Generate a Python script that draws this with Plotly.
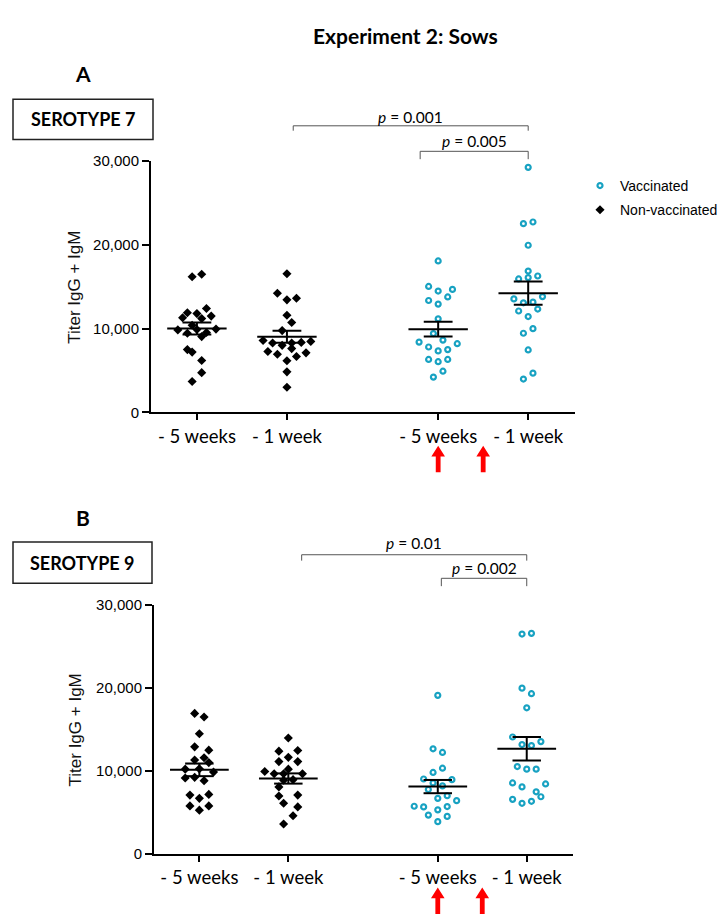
import numpy as np
import plotly.graph_objects as go

# ---------------- data ----------------
tick_labels = ["- 5 weeks", "- 1 week", "- 5 weeks", "- 1 week"]
group_names = ["Non-vaccinated", "Non-vaccinated", "Vaccinated", "Vaccinated"]

# Serotype 7 (panel A)
s7_non_5w = [16200, 16500, 12400, 11900, 11800, 11300, 11200, 11500, 10400, 9850,
             9450, 9900, 9550, 9950, 9050, 7500, 7200, 6200, 4750, 3700]
s7_non_1w = [16563, 14219, 13438, 13633, 11602, 10742, 9766, 8594, 8281, 8008, 8281,
             8360, 8476, 7266, 6953, 7617, 6680, 7109, 6172, 4844, 3008]
s7_vac_5w = [18086, 15039, 14492, 14688, 13789, 13359, 12930, 11172, 9414, 8633,
             8398, 8203, 7813, 7344, 7500, 6328, 6055, 6328, 4922, 4219]
s7_vac_1w = [29258, 22539, 22734, 19961, 16875, 15938, 16289, 16094, 13555, 13086,
             13164, 13828, 12109, 12344, 11445, 10000, 9453, 7461, 4688, 3984]

# Serotype 9 (panel B)
s9_non_5w = [16934, 16500, 14487, 12908, 12513, 11329, 11605, 11012, 10223, 10262,
             9868, 9157, 9236, 8841, 7105, 7184, 6710, 5802, 5802, 5289]
s9_non_1w = [13973, 12394, 12473, 11644, 11131, 11131, 10223, 9947, 9670, 9670,
             9670, 8960, 8881, 8091, 6986, 7105, 6118, 5684, 4618, 3631]
s9_vac_5w = [19103, 12670, 12236, 9828, 10341, 9039, 8960, 8565, 8210, 7776,
             6710, 7026, 6434, 5763, 5684, 5328, 5723, 4697, 4539, 3908]
s9_vac_1w = [26484, 26563, 19972, 19301, 17604, 14091, 13183, 13065, 13538, 10538,
             10223, 10223, 8565, 8091, 8447, 7499, 6907, 6591, 6118, 6355]

# scatter-dot column slot of each point (beeswarm column index)
s7_non_5w_slot = [-1, 1, 2, -2, 0, -3, 1, 3, -1, -4, -2, 0, 2, 4, 1, -2, -1, 1, 1, -1]
s7_non_1w_slot = [0, -2, 0, 2, 0, 1, -1, -5, -3, -1, 1, 3, 5, -4, -2, 1, 2, 4, 0, 0, 0]
s7_vac_5w_slot = [0, -2, 0, 3, 2, -2, 0, 0, -1, 1, -4, 4, -2, 0, 2, -2, 0, 2, 1, -1]
s7_vac_1w_slot = [0, -1, 1, 0, 0, -2, 2, 0, -3, -1, 1, 3, -2, 2, 0, 1, -1, 0, 1, -1]
s9_non_5w_slot = [-1, 1, 0, -1, 2, -1, 1, 2, -3, 0, 3, -3, -1, 1, -2, 2, 0, -2, 2, 0]
s9_non_1w_slot = [0, -2, 2, 0, -2, 2, 0, -5, -3, -1, 3, 1, -1, -2, -2, 2, -1, 2, 1, -1]
s9_vac_5w_slot = [0, -1, 1, -1, 1, -3, 3, -1, 1, -2, 0, 2, 4, -5, -3, 0, 2, -2, 2, 0]
s9_vac_1w_slot = [-1, 1, -1, 1, 0, -3, -1, 1, 3, -2, 0, 2, -3, -1, 4, 2, 3, -3, -1, 1]

p_values_A = ["0.001", "0.005"]
p_values_B = ["0.01", "0.002"]

# ---------------- layout helpers ----------------
W, H = 724, 922
def PX(x):
    return x / W
def PY(y):
    return 1 - y / H

group_pos = [0, 1, 2.68, 3.68]
slot_w = 0.053
TEAL = "#18a2c2"
FONT_SANS = "Liberation Sans, Arial, sans-serif"
FONT_CAL = "Lato, Open Sans, sans-serif"

fig = go.Figure()

panels = [
    dict(xa="x", ya="y",
         data=[s7_non_5w, s7_non_1w, s7_vac_5w, s7_vac_1w],
         slots=[s7_non_5w_slot, s7_non_1w_slot, s7_vac_5w_slot, s7_vac_1w_slot]),
    dict(xa="x2", ya="y2",
         data=[s9_non_5w, s9_non_1w, s9_vac_5w, s9_vac_1w],
         slots=[s9_non_5w_slot, s9_non_1w_slot, s9_vac_5w_slot, s9_vac_1w_slot]),
]

legend_done = set()
for pi, p in enumerate(panels):
    for gi in range(4):
        vals = np.array(p["data"][gi], dtype=float)
        xs = group_pos[gi] + np.array(p["slots"][gi]) * slot_w
        vac = group_names[gi] == "Vaccinated"
        name = group_names[gi]
        show = name not in legend_done
        legend_done.add(name)
        if vac:
            marker = dict(symbol="circle-open", size=5, color=TEAL,
                          line=dict(width=2.2, color=TEAL))
        else:
            marker = dict(symbol="diamond", size=7, color="black",
                          line=dict(width=0))
        fig.add_trace(go.Scatter(
            x=xs, y=vals, mode="markers", marker=marker, name=name,
            showlegend=show, legendgroup=name,
            legendrank=1 if vac else 2,
            xaxis=p["xa"], yaxis=p["ya"], hoverinfo="y"))
        # mean +/- SEM
        m = vals.mean()
        sem = vals.std(ddof=1) / np.sqrt(len(vals))
        c = group_pos[gi]
        lx = [c - 0.33, c + 0.33, None, c - 0.16, c + 0.16, None,
              c - 0.16, c + 0.16, None, c, c]
        ly = [m, m, None, m + sem, m + sem, None, m - sem, m - sem, None,
              m - sem, m + sem]
        fig.add_trace(go.Scatter(
            x=lx, y=ly, mode="lines", line=dict(color="black", width=2),
            showlegend=False, hoverinfo="skip",
            xaxis=p["xa"], yaxis=p["ya"]))

axis_common_x = dict(range=[-0.51, 4.2], tickmode="array", tickvals=group_pos,
                     ticktext=tick_labels, showline=True, linecolor="black",
                     linewidth=2, ticks="outside", ticklen=6, tickwidth=2,
                     tickcolor="black", showgrid=False, zeroline=False,
                     tickfont=dict(family=FONT_CAL, size=18.5, color="black"),
                     fixedrange=True)
axis_common_y = dict(range=[0, 30000], tickmode="array",
                     tickvals=[0, 10000, 20000, 30000], tickformat=",",
                     showline=True, linecolor="black", linewidth=2,
                     ticks="outside", ticklen=7, tickwidth=2, tickcolor="black",
                     showgrid=False, zeroline=False,
                     tickfont=dict(family=FONT_SANS, size=15, color="black"),
                     fixedrange=True)

fig.update_layout(
    width=W, height=H, margin=dict(l=0, r=0, t=0, b=0),
    paper_bgcolor="white", plot_bgcolor="white",
    xaxis=dict(domain=[PX(151), PX(575)], anchor="y", **axis_common_x),
    yaxis=dict(domain=[PY(411), PY(155)], anchor="x", **axis_common_y),
    xaxis2=dict(domain=[PX(154), PX(573)], anchor="y2", **axis_common_x),
    yaxis2=dict(domain=[PY(861), PY(607)], anchor="x2", **axis_common_y),
    legend=dict(x=PX(580), y=PY(164), xanchor="left", yanchor="top",
                font=dict(family=FONT_SANS, size=14, color="black"),
                tracegroupgap=3, bgcolor="rgba(0,0,0,0)", itemwidth=30),
    showlegend=True,
)

ann = []
shapes = []

def text_ann(text, x, y, size, family=FONT_CAL, xref="paper", yref="paper",
             angle=0, color="black"):
    return dict(text=text, x=x, y=y, xref=xref, yref=yref, showarrow=False,
                xanchor="center", yanchor="middle", textangle=angle,
                font=dict(family=family, size=size, color=color))

# Title
ann.append(text_ann("<b>Experiment 2: Sows</b>", PX(406), PY(27), 21))

panel_meta = [
    dict(letter="A", sero="SEROTYPE 7", top=155, axis=411, letter_y=66,
         box=(13, 92, 153, 133), pv=p_values_A, xa="x",
         br1=(1.07, 119, 124), br2=(2.48, 145, 153), t1=110, t2=134),
    dict(letter="B", sero="SEROTYPE 9", top=607, axis=861, letter_y=518,
         box=(13, 543, 152, 585), pv=p_values_B, xa="x2",
         br1=(1.15, 556, 562), br2=(2.72, 580, 588), t1=544, t2=570),
]

for pm in panel_meta:
    ann.append(text_ann("<b>%s</b>" % pm["letter"], PX(83), PY(pm["letter_y"]), 21))
    x0, y0, x1, y1 = pm["box"]
    shapes.append(dict(type="rect", xref="paper", yref="paper",
                       x0=PX(x0), x1=PX(x1), y0=PY(y1), y1=PY(y0),
                       line=dict(color="#222", width=1.5)))
    ann.append(text_ann("<b>%s</b>" % pm["sero"], PX((x0 + x1) / 2),
                        PY((y0 + y1) / 2), 18))
    xa = pm["xa"]
    right = group_pos[3]
    for (lx, ly, ty), txt_y, pv in [(pm["br1"], pm["t1"], pm["pv"][0]),
                                    (pm["br2"], pm["t2"], pm["pv"][1])]:
        shapes.append(dict(type="path", xref=xa, yref="paper",
                           path="M %f,%f L %f,%f L %f,%f L %f,%f" % (
                               lx, PY(ty), lx, PY(ly), right, PY(ly), right, PY(ty)),
                           line=dict(color="#555", width=1)))
        ann.append(text_ann("<i>p</i> = %s" % pv, (lx + right) / 2, PY(txt_y),
                            15.5, xref=xa))
    # vaccination arrows
    tip = pm["axis"] + 34
    headb = tip + 11
    base = tip + 27
    for ax_x in [group_pos[2], (group_pos[2] + group_pos[3]) / 2]:
        path = ("M -2.4,{b} L -2.4,{h} L -6.8,{h} L 0,{t} L 6.8,{h} "
                "L 2.4,{h} L 2.4,{b} Z").format(b=PY(base), h=PY(headb), t=PY(tip))
        shapes.append(dict(type="path", xref=xa, yref="paper",
                           xsizemode="pixel", xanchor=ax_x, path=path,
                           fillcolor="#ff0000", line=dict(width=0)))
    # y axis title
    ann.append(text_ann("Titer IgG + IgM", PX(75),
                        PY((pm["top"] + pm["axis"]) / 2 + 1), 17,
                        family=FONT_SANS, angle=-90, color="#111"))

fig.update_layout(annotations=ann, shapes=shapes)
fig.write_html("out.html")
